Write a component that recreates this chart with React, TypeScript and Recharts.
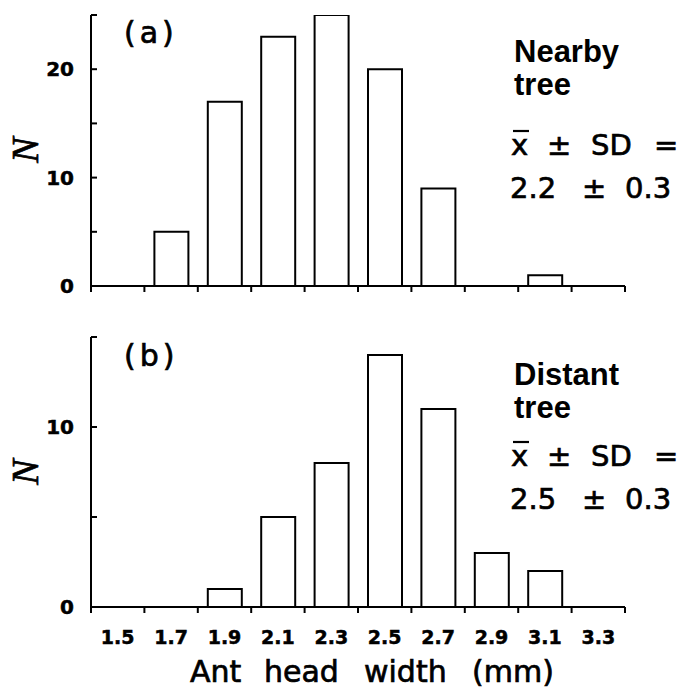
import React from 'react';
import { BarChart, Bar, XAxis, YAxis } from 'recharts';

const bins = ['1.5', '1.7', '1.9', '2.1', '2.3', '2.5', '2.7', '2.9', '3.1', '3.3'];
const nearbyCounts = [0, 5, 17, 23, 25, 20, 9, 0, 1, 0];
const distantCounts = [0, 0, 1, 5, 8, 14, 11, 3, 2, 0];
const nearbyYTicks = [0, 5, 10, 15, 20, 25];
const distantYTicks = [0, 5, 10, 15];
const labeledYTicks = [0, 10, 20];

const W = 681;
const H = 689;
const PLOT_LEFT = 91;
const PLOT_RIGHT = 625;
const HALF_BAND = (PLOT_RIGHT - PLOT_LEFT) / bins.length / 2;
const Y_AXIS_W = 60;
const TICK_FONT = '"DejaVu Sans", sans-serif';
const TEXT_FONT = '"DejaVu Sans", sans-serif';
const BOLD_FONT = '"Liberation Sans", Arial, sans-serif';

function makeXTick(showLabels: boolean) {
  return (props: any) => {
    const { x, y, payload, index } = props;
    const last = index === bins.length - 1;
    return (
      <g>
        <line x1={x - HALF_BAND} x2={x - HALF_BAND} y1={y} y2={y + 6} stroke="#000" strokeWidth={2} />
        {last && <line x1={x + HALF_BAND} x2={x + HALF_BAND} y1={y} y2={y + 6} stroke="#000" strokeWidth={2} />}
        {showLabels && (
          <text x={x} y={y + 37} textAnchor="middle" fontFamily={TICK_FONT} fontWeight="bold" fontSize={19} fill="#000" stroke="#000" strokeWidth={0.5}>
            {payload.value}
          </text>
        )}
      </g>
    );
  };
}

const YTick = (props: any) => {
  const { x, y, payload } = props;
  const axisX = x + 17;
  return (
    <g>
      <line x1={axisX} x2={axisX + 6} y1={y} y2={y} stroke="#000" strokeWidth={2} />
      {labeledYTicks.includes(payload.value) && (
        <text x={x} y={y} dy="0.36em" textAnchor="end" fontFamily={TICK_FONT} fontWeight="bold" fontSize={20} fill="#000" stroke="#000" strokeWidth={0.5}>
          {payload.value}
        </text>
      )}
    </g>
  );
};

type PanelProps = {
  counts: number[];
  ticks: number[];
  max: number;
  height: number;
  top: number;
  xHeight: number;
  showLabels: boolean;
};

function Panel({ counts, ticks, max, height, top, xHeight, showLabels }: PanelProps) {
  const data = bins.map((bin, i) => ({ bin, count: counts[i] }));
  return (
    <BarChart
      width={W}
      height={height}
      data={data}
      margin={{ top, right: W - PLOT_RIGHT, bottom: 0, left: PLOT_LEFT - Y_AXIS_W }}
    >
      <XAxis
        dataKey="bin"
        type="category"
        interval={0}
        height={xHeight}
        tickSize={0}
        tickMargin={0}
        tickLine={false}
        axisLine={{ stroke: '#000', strokeWidth: 2 }}
        tick={makeXTick(showLabels)}
      />
      <YAxis
        type="number"
        domain={[0, max]}
        ticks={ticks}
        interval={0}
        width={Y_AXIS_W}
        tickSize={0}
        tickMargin={17}
        tickLine={false}
        allowDataOverflow
        axisLine={{ stroke: '#000', strokeWidth: 2 }}
        tick={YTick}
      />
      <Bar dataKey="count" fill="#fff" stroke="#000" strokeWidth={2} barSize={34} isAnimationActive={false} />
    </BarChart>
  );
}

const heavy = { stroke: '#000', strokeWidth: 0.7 };

function Stats({ y1, y2, value }: { y1: number; y2: number; value: string }) {
  const common = { fontFamily: TEXT_FONT, fontSize: 29, fill: '#000', ...heavy };
  return (
    <g>
      <text x={511} y={y1} {...common}>x</text>
      <line x1={513} x2={529} y1={y1 - 24} y2={y1 - 24} stroke="#000" strokeWidth={2.2} />
      <text x={547} y={y1} {...common}>±</text>
      <text x={591} y={y1} {...common}>SD</text>
      <text x={654} y={y1} {...common}>=</text>
      <text x={510} y={y2} {...common}>{value}</text>
      <text x={582} y={y2} {...common}>±</text>
      <text x={625} y={y2} {...common}>0.3</text>
    </g>
  );
}

export default function App() {
  const word = { fontFamily: TEXT_FONT, fontSize: 30, fill: '#000', ...heavy };
  const panelLabel = { fontFamily: TEXT_FONT, fontSize: 30, fill: '#000', letterSpacing: 4, ...heavy };
  const bold = { fontFamily: BOLD_FONT, fontWeight: 'bold' as const, fontSize: 31, fill: '#000' };
  const nLabel = { textAnchor: 'middle' as const, fontFamily: '"Liberation Serif", serif', fontStyle: 'italic' as const, fontSize: 38, fill: '#000', ...heavy };
  return (
    <div style={{ position: 'absolute', left: 0, top: 0, width: W, height: H, background: '#fff', overflow: 'hidden' }}>
      <div style={{ position: 'absolute', left: 0, top: 0 }}>
        <Panel counts={nearbyCounts} ticks={nearbyYTicks} max={25} height={300} top={15} xHeight={14} showLabels={false} />
      </div>
      <div style={{ position: 'absolute', left: 0, top: 300 }}>
        <Panel counts={distantCounts} ticks={distantYTicks} max={15} height={389} top={37} xHeight={82} showLabels={true} />
      </div>
      <svg width={W} height={H} style={{ position: 'absolute', left: 0, top: 0, pointerEvents: 'none' }}>
        <text x={124} y={43} {...panelLabel}>(a)</text>
        <text x={124} y={366} {...panelLabel}>(b)</text>

        <text x={514} y={62} {...bold}>Nearby</text>
        <text x={514} y={95} {...bold}>tree</text>
        <Stats y1={155} y2={198} value="2.2" />

        <text x={514} y={385} {...bold}>Distant</text>
        <text x={514} y={418} {...bold}>tree</text>
        <Stats y1={466} y2={509} value="2.5" />

        <text transform="translate(38,150) rotate(-90)" {...nLabel}>N</text>
        <text transform="translate(38,472) rotate(-90)" {...nLabel}>N</text>

        <text x={190} y={682} {...word}>Ant</text>
        <text x={264} y={682} {...word}>head</text>
        <text x={364} y={682} {...word}>width</text>
        <text x={472} y={682} {...word}>(mm)</text>
      </svg>
    </div>
  );
}
